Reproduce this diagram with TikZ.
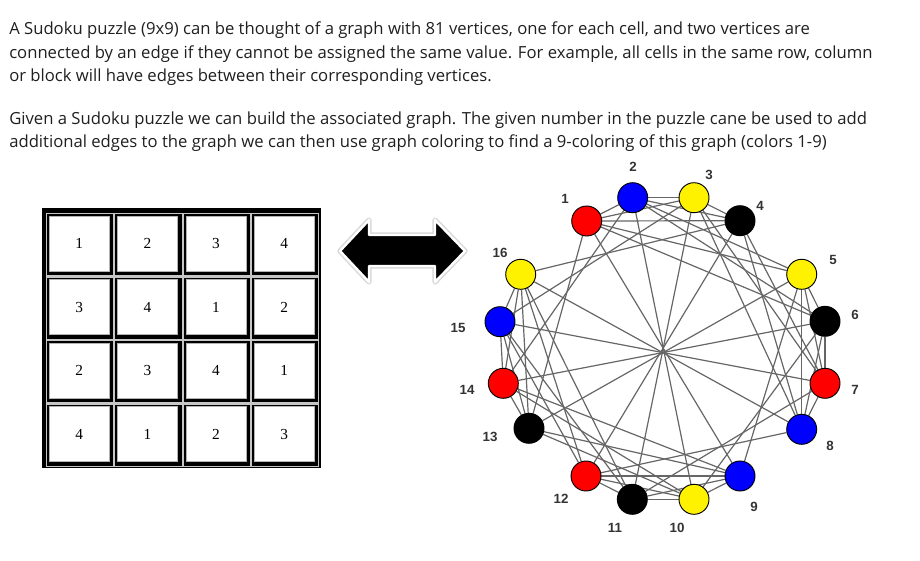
\documentclass[tikz,border=0pt]{standalone}
\usepackage{fontspec}
\setmainfont{Open Sans}
\newfontfamily\lblfont{Liberation Sans}
\newfontfamily\cellfont{Liberation Serif}
\usetikzlibrary{backgrounds}

\begin{document}
\begin{tikzpicture}[
    x=0.75pt, y=-0.75pt,
    para/.style={anchor=base west, inner sep=0pt, text=black!88,
                 font=\fontsize{12.5}{15}\selectfont},
    cellbox/.style={draw=gray!60, fill=white, line width=0.4pt, anchor=north west,
                    minimum width=45pt, minimum height=41.6pt, inner sep=0pt,
                    font=\cellfont\fontsize{11.5}{12}\selectfont},
    vtx/.style={circle, draw=black, line width=0.7pt, minimum size=22.5pt,
                inner sep=0pt},
    lbl/.style={inner sep=0pt, text=black!80,
                font=\lblfont\bfseries\fontsize{10}{11}\selectfont},
    edge/.style={draw=black!60, line width=0.9pt}
  ]
  \useasboundingbox (0,0) rectangle (920,560);

  % Text above
  \foreach \y/\txt [count=\i] in {
      35/{A Sudoku puzzle (9x9) can be thought of a graph with 81 vertices, one for each cell, and two vertices are},
      58.3/{connected by an edge if they cannot be assigned the same value. For example, all cells in the same row, column},
      81.6/{or block will have edges between their corresponding vertices.},
      124.3/{Given a Sudoku puzzle we can build the associated graph. The given number in the puzzle cane be used to add},
      147.6/{additional edges to the graph we can then use graph coloring to find a 9-coloring of this graph (colors 1-9)}} {
    \node[para] (p\i) at (9,\y) {\txt};
  }

  % Sudoku grid
  \fill[black] (42,208) rectangle (321,468);
  \foreach \r/\vals in {0/{1,2,3,4}, 1/{3,4,1,2}, 2/{2,3,4,1}, 3/{4,1,2,3}} {
    \foreach \v [count=\c from 0] in \vals {
      \draw[gray!45, fill=black, line width=0.8pt]
        ({46.5+68.3*\c}, {213.5+63.5*\r}) rectangle ++(67.5,62.5);
      \node[cellbox] (c\r\c) at ({49+68.3*\c}, {215.5+63.5*\r}) {\v};
    }
  }

  % Double arrow
  \draw[black!15, line width=4pt, line join=round]
    (340,251) -- (369,220) -- (369,235) -- (435,235) -- (435,220) -- (465,251)
    -- (435,282) -- (435,266) -- (369,266) -- (369,282) -- cycle;
  \filldraw[fill=black, draw=white, line width=1.8pt, line join=round]
    (340,251) -- (369,220) -- (369,235) -- (435,235) -- (435,220) -- (465,251)
    -- (435,282) -- (435,266) -- (369,266) -- (369,282) -- cycle;

  % Vertices of the graph
  \foreach \n/\px/\py/\col/\lx/\ly in {
      1/586.7/221/red/565/199,       2/632.7/197.7/blue/633/167,
      3/694/197.7/yellow/709/175,    4/740/220.7/black/760/206,
      5/801.7/274.3/yellow/833/260,  6/825/321.3/black/855/315,
      7/825/383.3/red/855/390,       8/801.7/429.3/blue/830/446,
      9/740/476/blue/754/507,        10/694/499.3/yellow/677/528,
      11/632.3/499.3/black/615/528,  12/586/476/red/561/499,
      13/529/428.3/black/490/437,    14/503.3/383.3/red/467/390,
      15/500/321.7/blue/458/328,     16/520.7/274.3/yellow/500/253} {
    \node[vtx, fill=\col] (v\n) at (\px,\py) {};
    \node[lbl] (t\n) at (\lx,\ly) {\n};
  }

  % Edges: same row, column or block
  \begin{scope}[on background layer]
    \foreach \a in {1,...,16} {
      \foreach \b in {\a,...,16} {
        \pgfmathtruncatemacro{\ra}{div(\a-1,4)}
        \pgfmathtruncatemacro{\ca}{mod(\a-1,4)}
        \pgfmathtruncatemacro{\rb}{div(\b-1,4)}
        \pgfmathtruncatemacro{\cb}{mod(\b-1,4)}
        \pgfmathtruncatemacro{\adj}{(\a<\b) && (\ra==\rb || \ca==\cb ||
          (div(\ra,2)==div(\rb,2) && div(\ca,2)==div(\cb,2))) ? 1 : 0}
        \ifnum\adj=1
          \draw[edge] (v\a) -- (v\b);
        \fi
      }
    }
  \end{scope}
\end{tikzpicture}
\end{document}
